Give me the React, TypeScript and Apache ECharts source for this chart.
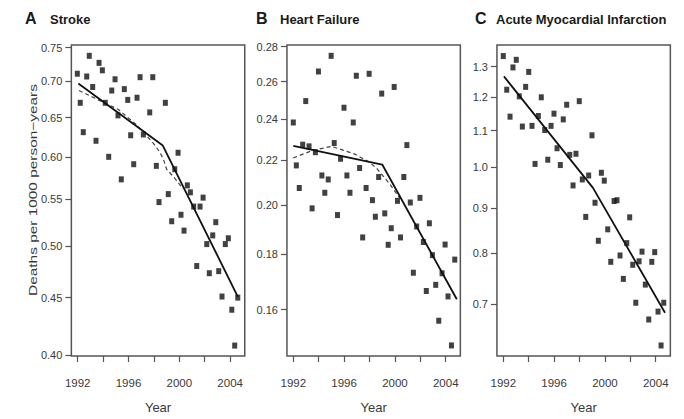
import React, { useEffect, useRef } from "react";
import * as echarts from "echarts";

// ---------- data ----------
const strokeYears = [1991.97, 1992.2, 1992.44, 1992.71, 1992.91, 1993.18, 1993.44, 1993.68, 1993.94, 1994.17, 1994.44, 1994.68, 1994.94, 1995.17, 1995.43, 1995.67, 1995.94, 1996.17, 1996.41, 1996.67, 1996.91, 1997.17, 1997.67, 1997.91, 1998.19, 1998.4, 1998.9, 1999.13, 1999.4, 1999.64, 1999.9, 2000.13, 2000.37, 2000.63, 2000.87, 2001.13, 2001.37, 2001.63, 2001.87, 2002.16, 2002.36, 2002.63, 2002.87, 2003.1, 2003.36, 2003.62, 2003.86, 2004.13, 2004.36, 2004.6];
const strokeRates = [0.711, 0.67, 0.631, 0.707, 0.7375, 0.692, 0.62, 0.727, 0.716, 0.67, 0.6, 0.687, 0.703, 0.653, 0.573, 0.689, 0.674, 0.627, 0.591, 0.677, 0.706, 0.628, 0.657, 0.706, 0.589, 0.547, 0.67, 0.556, 0.526, 0.585, 0.605, 0.533, 0.516, 0.566, 0.558, 0.542, 0.48, 0.542, 0.552, 0.502, 0.473, 0.511, 0.525, 0.475, 0.451, 0.502, 0.508, 0.439, 0.408, 0.45];
const strokeFitYears = [1992.05, 1998.7, 2004.6];
const strokeFitRates = [0.697, 0.614, 0.451];
const strokeAltYears = [1992.1, 1995.2, 1996.6, 1997.9, 1998.45, 1998.75, 1999.0, 1999.6, 2000.3];
const strokeAltRates = [0.687, 0.661, 0.641, 0.618, 0.606, 0.597, 0.585, 0.575, 0.562];

const hfYears = [1992.0, 1992.24, 1992.47, 1992.74, 1992.98, 1993.24, 1993.48, 1993.74, 1993.98, 1994.25, 1994.48, 1994.75, 1994.98, 1995.22, 1995.48, 1995.72, 1995.99, 1996.22, 1996.46, 1996.72, 1996.96, 1997.22, 1997.46, 1997.73, 1997.97, 1998.23, 1998.46, 1998.72, 1998.96, 1999.2, 1999.47, 1999.71, 1999.94, 2000.2, 2000.44, 2000.7, 2000.94, 2001.21, 2001.45, 2001.71, 2001.97, 2002.24, 2002.47, 2002.71, 2002.95, 2003.21, 2003.45, 2003.71, 2003.95, 2004.18, 2004.45, 2004.71];
const hfRates = [0.2383, 0.2175, 0.2073, 0.2273, 0.2494, 0.2265, 0.1985, 0.2237, 0.2656, 0.2129, 0.2052, 0.2111, 0.2746, 0.2281, 0.1957, 0.2206, 0.2459, 0.2129, 0.2052, 0.2383, 0.2632, 0.2163, 0.1866, 0.2073, 0.2643, 0.202, 0.195, 0.2122, 0.2534, 0.1964, 0.1837, 0.1903, 0.257, 0.2017, 0.1866, 0.2122, 0.2271, 0.201, 0.1731, 0.191, 0.203, 0.1848, 0.1665, 0.1923, 0.1797, 0.1687, 0.1563, 0.1729, 0.1838, 0.1646, 0.1483, 0.178];
const hfFitYears = [1992.0, 1999.0, 2004.87];
const hfFitRates = [0.2267, 0.2179, 0.1636];
const hfAltYears = [1992.0, 1993.5, 1995.0, 1996.8, 1998.0, 1998.6, 1999.6, 2000.4];
const hfAltRates = [0.221, 0.2245, 0.2265, 0.2229, 0.219, 0.2159, 0.209, 0.2027];

const amiYears = [1992.0, 1992.27, 1992.53, 1992.76, 1993.02, 1993.26, 1993.5, 1993.76, 1994.0, 1994.26, 1994.5, 1994.76, 1994.99, 1995.26, 1995.5, 1995.76, 1995.99, 1996.23, 1996.49, 1996.72, 1996.99, 1997.23, 1997.49, 1997.72, 1997.98, 1998.22, 1998.49, 1998.72, 1998.98, 1999.22, 1999.48, 1999.72, 1999.95, 2000.22, 2000.46, 2000.72, 2000.95, 2001.19, 2001.45, 2001.72, 2001.95, 2002.19, 2002.43, 2002.69, 2002.92, 2003.18, 2003.45, 2003.69, 2003.92, 2004.18, 2004.42, 2004.63];
const amiRates = [1.336, 1.224, 1.141, 1.297, 1.323, 1.203, 1.112, 1.233, 1.282, 1.114, 1.009, 1.143, 1.2, 1.102, 1.02, 1.114, 1.15, 1.051, 1.006, 1.133, 1.177, 1.033, 0.954, 1.036, 1.188, 0.969, 0.879, 0.979, 1.087, 0.912, 0.826, 0.986, 0.966, 0.851, 0.782, 0.916, 0.918, 0.795, 0.748, 0.821, 0.878, 0.776, 0.703, 0.783, 0.803, 0.737, 0.673, 0.782, 0.802, 0.687, 0.629, 0.703];
const amiFitYears = [1992.05, 1999.06, 2004.73];
const amiFitRates = [1.267, 0.948, 0.685];

const xTickYears = [1992, 1994, 1996, 1998, 2000, 2002, 2004];
const xLabelYears = [1992, 1996, 2000, 2004];
const strokeTicks = [0.4, 0.45, 0.5, 0.55, 0.6, 0.65, 0.7, 0.75];
const hfTicks = [0.16, 0.18, 0.2, 0.22, 0.24, 0.26, 0.28];
const amiTicks = [0.7, 0.8, 0.9, 1.0, 1.1, 1.2, 1.3];

const zip = (xs: number[], ys: number[]) => xs.map((x, i) => [x, ys[i]]);

const FONT = '"Liberation Sans", Arial, sans-serif';
const TEXT = "#3a3a3a";
const FRAME = "#555";

export default function App() {
  const ref = useRef<HTMLDivElement>(null);
  useEffect(() => {
    if (!ref.current) return;
    const chart = echarts.init(ref.current, undefined, { renderer: "svg" });
    const lefts = [71.35, 286.95, 496.95];
    const grid = lefts.map((l) => ({
      left: l,
      top: 45,
      width: 173.4,
      height: 314,
      show: true,
      borderColor: FRAME,
      borderWidth: 1.5,
      backgroundColor: "transparent",
      containLabel: false,
    }));
    const xAxis = [0, 1, 2].map((i) => ({
      gridIndex: i,
      type: "value",
      min: 1991.5,
      max: 2005.15,
      axisLine: { show: false },
      splitLine: { show: false },
      axisTick: { show: true, length: 6, lineStyle: { color: FRAME, width: 1.2 }, customValues: xTickYears },
      axisLabel: { customValues: xLabelYears, margin: 21, fontSize: 11.5, color: TEXT, fontFamily: FONT, formatter: (v: number) => String(v) },
      name: "Year",
      nameLocation: "middle",
      nameGap: 45,
      nameTextStyle: { fontSize: 13, color: TEXT, fontFamily: FONT },
    }));
    const yCfg = [
      { ticks: strokeTicks, min: 0.3994, max: 0.754, dec: 2 },
      { ticks: hfTicks, min: 0.145, max: 0.281, dec: 2 },
      { ticks: amiTicks, min: 0.612, max: 1.375, dec: 1 },
    ];
    const yAxis = yCfg.map((c, i) => ({
      gridIndex: i,
      type: "log",
      logBase: 10,
      min: c.min,
      max: c.max,
      axisLine: { show: false },
      splitLine: { show: false },
      minorTick: { show: false },
      axisTick: { show: true, length: 6, lineStyle: { color: FRAME, width: 1.2 }, customValues: c.ticks },
      axisLabel: { customValues: c.ticks, margin: 9, fontSize: 11, color: TEXT, fontFamily: FONT, formatter: (v: number) => v.toFixed(c.dec) },
    }));
    const scatter = (data: number[][], i: number) => ({
      type: "scatter",
      xAxisIndex: i,
      yAxisIndex: i,
      data,
      symbol: "rect",
      symbolSize: [5, 6],
      itemStyle: { color: "#111" },
      z: 3,
    });
    const line = (data: number[][], i: number, dashed: boolean) => ({
      type: "line",
      xAxisIndex: i,
      yAxisIndex: i,
      data,
      showSymbol: false,
      symbol: "none",
      smooth: false,
      lineStyle: dashed ? { color: "#444", width: 1.2, type: [4, 3] } : { color: "#111", width: 1.8 },
      z: dashed ? 4 : 5,
    });
    const title = (x: number, letter: string, lx: number, label: string) => [
      { type: "text", x, y: 18, style: { text: letter, font: `bold 16px ${FONT}`, fill: "#1a1a1a", verticalAlign: "middle" } },
      { type: "text", x: lx, y: 19, style: { text: label, font: `bold 13px ${FONT}`, fill: "#1a1a1a", verticalAlign: "middle" } },
    ];
    chart.setOption({
      animation: false,
      backgroundColor: "#fff",
      grid,
      xAxis,
      yAxis,
      series: [
        scatter(zip(strokeYears, strokeRates), 0),
        line(zip(strokeAltYears, strokeAltRates), 0, true),
        line(zip(strokeFitYears, strokeFitRates), 0, false),
        scatter(zip(hfYears, hfRates), 1),
        line(zip(hfAltYears, hfAltRates), 1, true),
        line(zip(hfFitYears, hfFitRates), 1, false),
        scatter(zip(amiYears, amiRates), 2),
        line(zip(amiFitYears, amiFitRates), 2, false),
      ],
      graphic: [
        ...title(25, "A", 50, "Stroke"),
        ...title(256, "B", 280, "Heart Failure"),
        ...title(475, "C", 496, "Acute Myocardial Infarction"),
        {
          type: "text",
          x: 33,
          y: 190,
          rotation: Math.PI / 2,
          scaleX: 1.4,
          style: { text: "Deaths per 1000 person\u2212years", font: `11px ${FONT}`, fill: TEXT, align: "center", verticalAlign: "middle" },
        },
      ],
    });
    return () => chart.dispose();
  }, []);
  return <div ref={ref} style={{ position: "fixed", left: 0, top: 0, width: 684, height: 419 }} />;
}
